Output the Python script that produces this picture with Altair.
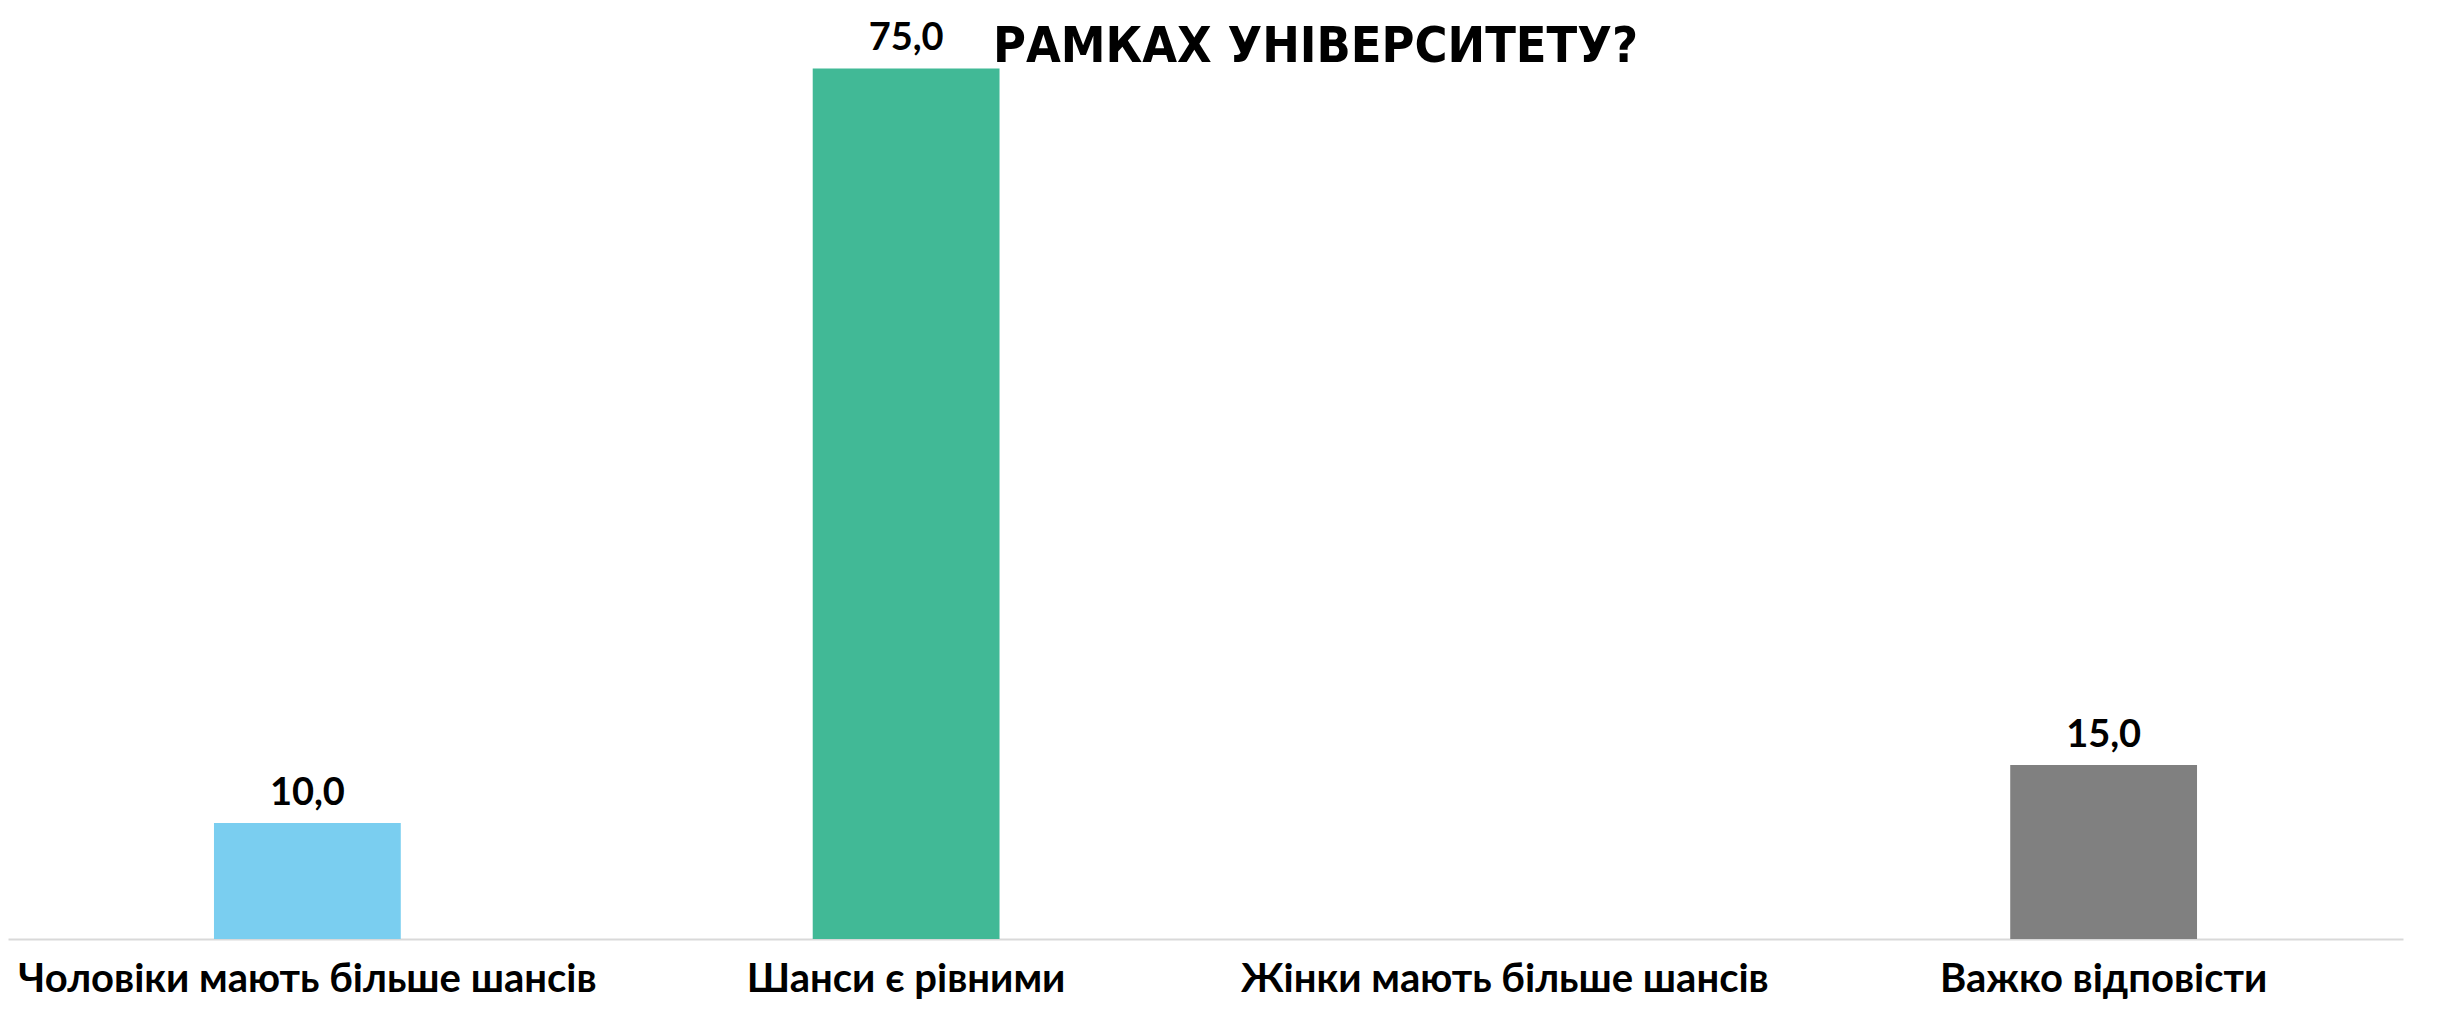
import altair as alt
import pandas as pd

categories = [
    "Чоловіки мають більше шансів",
    "Шанси є рівними",
    "Жінки мають більше шансів",
    "Важко відповісти",
]
values = [10.0, 75.0, None, 15.0]
colors = ["#7ACEF0", "#41B996", "#F2A65A", "#808080"]
title_text = "РАМКАХ УНІВЕРСИТЕТУ?"

df = pd.DataFrame({"category": categories, "value": values})

x = alt.X(
    "category:N",
    sort=categories,
    scale=alt.Scale(paddingInner=0.688, paddingOuter=0.344),
    axis=alt.Axis(
        title=None,
        labelAngle=0,
        labelFont="Lato",
        labelFontWeight="bold",
        labelFontSize=40,
        labelColor="#000000",
        labelPadding=20,
        labelLimit=1000,
        ticks=False,
        domainColor="#D9D9D9",
        domainWidth=2,
    ),
)
y = alt.Y("value:Q", scale=alt.Scale(domain=[0, 79]), axis=None)

bars = alt.Chart(df).mark_bar().encode(
    x=x,
    y=y,
    color=alt.Color(
        "category:N",
        scale=alt.Scale(domain=categories, range=colors),
        legend=None,
    ),
)

labels = (
    alt.Chart(df)
    .transform_filter("isValid(datum.value)")
    .transform_calculate(lbl="replace(format(datum.value, '.1f'), '.', ',')")
    .mark_text(
        font="Lato",
        fontWeight="bold",
        fontSize=38,
        color="#000000",
        baseline="alphabetic",
        dy=-18,
    )
    .encode(x=x, y=y, text="lbl:N")
)

chart = (
    alt.layer(bars, labels)
    .properties(
        width=2395,
        height=917,
        autosize=alt.AutoSizeParams(type="none"),
        padding={"top": 14, "left": 0, "right": 16, "bottom": 70},
        title=alt.Title(
            title_text,
            font="Liberation Sans Narrow, DejaVu Sans Condensed, sans-serif",
            fontSize=50,
            fontWeight="bold",
            color="#000000",
            anchor="middle",
            frame="group",
            baseline="top",
            offset=-52,
            dx=110,
        ),
    )
    .configure_view(stroke=None)
)

chart.save("out.html", embed_options={"renderer": "svg", "actions": False})
